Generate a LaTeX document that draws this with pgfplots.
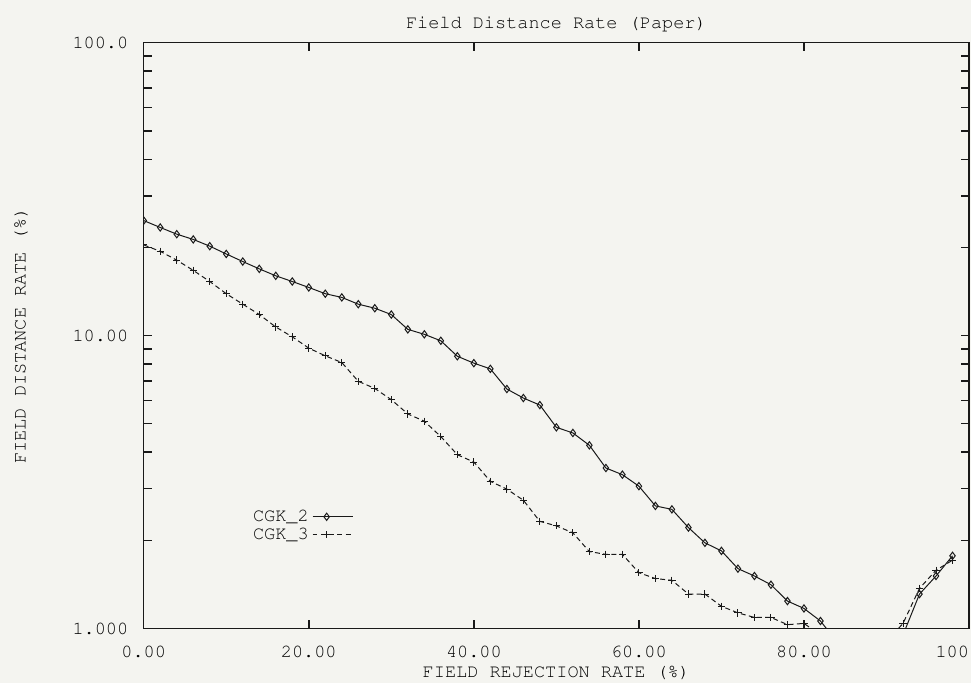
\documentclass[border=0pt]{standalone}
\usepackage[T1,TU]{fontenc}
\usepackage{pgfplots}
\pgfplotsset{compat=1.18}
\definecolor{paper}{RGB}{244,244,240}
\definecolor{ink}{RGB}{25,25,25}

\begin{document}
\pagecolor{paper}
\fontencoding{T1}\fontfamily{pcr}\fontsize{11.2}{13}\selectfont
\begin{tikzpicture}
\begin{axis}[
    scale only axis,
    width=498pt, height=353.4pt,
    ymode=log,
    xmin=0, xmax=100, ymin=1, ymax=100,
    xtick={0,20,40,60,80,100},
    xticklabels={0.00,20.00,40.00,60.00,80.00,100.00},
    ytick={1,10,100},
    yticklabels={1.000,10.00,100.0},
    tick align=inside,
    major tick length=5pt, minor tick length=5pt,
    every tick/.style={ink, line width=0.9pt},
    axis line style={ink, line width=0.9pt},
    xticklabel style={yshift=-6.5pt},
    yticklabel style={xshift=-5.4pt},
    title={Field Distance Rate (Paper)},
    title style={at={(axis description cs:0.5,1.032)}, anchor=center, yshift=-6pt},
    xlabel={FIELD REJECTION RATE (\%)},
    xlabel style={at={(axis description cs:0.5,-0.076)}, anchor=center},
    ylabel={FIELD DISTANCE RATE (\%)},
    ylabel style={at={(axis description cs:-0.149,0.5)}, anchor=center, rotate=0},
    clip marker paths=true,
    legend plot pos=right,
    legend image code/.code={\draw[mark repeat=2,mark phase=2] plot coordinates {(0.15cm,0cm) (0.45cm,0cm) (1.0cm,0cm)};},
    legend style={at={(rel axis cs:0.122,0.215)}, anchor=north west, draw=none, fill=none, row sep=-2pt},
]
\addplot[ink, line width=0.6pt, mark=diamond, mark size=2.2pt] coordinates {
(0,24.7) (2,23.4) (4,22.2) (6,21.3) (8,20.2) (10,19.0) (12,17.9) (14,16.9)
(16,16.0) (18,15.3) (20,14.6) (22,13.9) (24,13.5) (26,12.8) (28,12.4) (30,11.8)
(32,10.5) (34,10.1) (36,9.6) (38,8.5) (40,8.05) (42,7.7) (44,6.57) (46,6.12)
(48,5.79) (50,4.86) (52,4.65) (54,4.22) (56,3.53) (58,3.35) (60,3.06) (62,2.62)
(64,2.55) (66,2.21) (68,1.96) (70,1.84) (72,1.60) (74,1.51) (76,1.41) (78,1.24)
(80,1.17) (82,1.06) (84,0.90) (86,0.85) (88,0.80) (90,0.85) (92,0.95)
(94,1.31) (96,1.51) (98,1.77)
};
\addplot[ink, line width=0.6pt, dash pattern=on 3pt off 2pt, mark=+, mark size=2.2pt, mark options={solid}] coordinates {
(0,20.4) (2,19.4) (4,18.1) (6,16.7) (8,15.3) (10,13.9) (12,12.8) (14,11.8)
(16,10.7) (18,9.9) (20,9.06) (22,8.53) (24,8.09) (26,6.98) (28,6.6) (30,6.04)
(32,5.40) (34,5.10) (36,4.52) (38,3.92) (40,3.70) (42,3.18) (44,2.99) (46,2.74)
(48,2.32) (50,2.24) (52,2.12) (54,1.83) (56,1.79) (58,1.79) (60,1.55) (62,1.48)
(64,1.46) (66,1.31) (68,1.31) (70,1.19) (72,1.13) (74,1.09) (76,1.09) (78,1.03)
(80,1.04) (82,0.95) (84,0.90) (86,0.85) (88,0.85) (90,0.90) (92,1.04)
(94,1.37) (96,1.58) (98,1.71)
};
\legend{CGK\_2, CGK\_3}
\end{axis}
\pgfresetboundingbox
\path ([xshift=-83.4pt,yshift=-33pt]current axis.south west) rectangle ([xshift=1.2pt,yshift=25.8pt]current axis.north east);
\end{tikzpicture}
\end{document}
